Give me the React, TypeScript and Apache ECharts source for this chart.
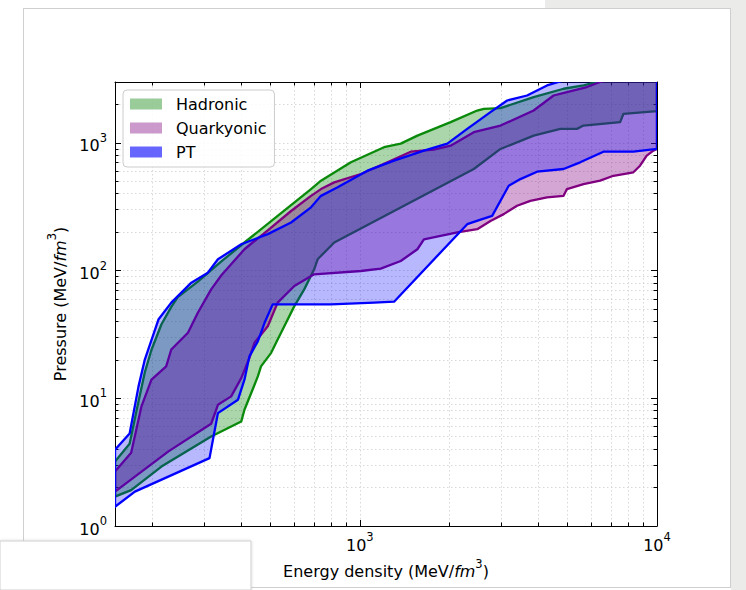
import React, { useEffect, useRef } from 'react';
import * as echarts from 'echarts';

// ---------- data (energy density MeV/fm^3, pressure MeV/fm^3) ----------
const seriesNames = ['Hadronic', 'Quarkyonic', 'PT'];

const hadronicUpper: [number, number][] = [
  [150, 3.2], [168, 4.4], [180, 9.5], [189, 16], [199, 24], [215, 38], [232, 52], [244, 62],
  [285, 82], [342, 118], [409, 166], [529, 268], [685, 435], [740, 506], [933, 705],
  [1206, 925], [1373, 987], [1562, 1141], [2021, 1454], [2483, 1794], [2613, 1850],
  [2974, 1873], [3845, 2286], [4848, 2656], [5658, 2819], [6603, 3087], [8000, 3600], [10000, 4200],
];
const hadronicLower: [number, number][] = [
  [150, 1.7], [170, 1.91], [215, 2.92], [316, 5.02], [399, 6.58], [409, 8.14], [431, 11.0],
  [454, 14.9], [465, 17.8], [503, 22.7], [529, 28.9], [557, 36.7], [602, 52.7], [650, 71.3],
  [702, 102.4], [721, 122.7], [820, 166], [2418, 625], [2974, 897], [3845, 1141], [4726, 1288],
  [5377, 1288], [5658, 1368], [7514, 1454], [7709, 1690], [10000, 1774],
];
const quarkyonicUpper: [number, number][] = [
  [150, 2.67], [170, 3.74], [184, 8.6], [199, 14.0], [223, 17.8], [232, 24.1], [264, 32.6],
  [285, 46.8], [316, 71.3], [342, 92], [409, 147], [490, 207], [587, 293], [685, 385],
  [740, 435], [820, 491], [1008, 571], [1271, 726], [1483, 854], [1775, 886], [2021, 952],
  [2418, 1213], [2974, 1368], [3845, 1794], [4487, 2352], [4977, 2502], [5809, 2739],
  [6437, 2999], [8000, 3500], [10000, 4000],
];
const quarkyonicLower: [number, number][] = [
  [150, 1.86], [227, 3.84], [316, 6.32], [333, 8.9], [369, 10.35], [399, 14.4], [425, 20.7],
  [442, 27.2], [490, 36.7], [529, 56.1], [602, 75.7], [702, 93.5], [1008, 99.3], [1176, 103.7],
  [1373, 119], [1562, 147], [1643, 176], [1870, 187], [2128, 199], [2483, 211], [2752, 245],
  [3050, 277], [3382, 322], [3748, 352], [4265, 374.5], [4848, 385.5], [4977, 435], [5658, 476],
  [6437, 506], [7135, 553], [8327, 589], [8769, 663], [9235, 795], [9719, 870], [10000, 897],
];
const ptUpper: [number, number][] = [
  [150, 3.95], [168, 5.3], [180, 12.4], [189, 20.1], [210, 41.4], [232, 56.1], [271, 80.5],
  [308, 96.4], [333, 122.7], [399, 161], [490, 193], [587, 238], [685, 313], [740, 385],
  [842, 449], [1061, 606], [1304, 726], [1643, 870], [1970, 987], [2298, 1288], [2752, 1743],
  [3131, 2149], [3654, 2352], [4265, 2819], [4848, 3087], [6500, 4200], [10000, 6000],
];
const ptLower: [number, number][] = [
  [150, 1.415], [175, 1.86], [312, 3.4], [333, 7.66], [389, 9.75], [409, 14.0], [425, 21.3],
  [454, 28.0], [478, 39.0], [509, 54.4], [799, 54.4], [1117, 56.1], [1304, 57.1], [2298, 231],
  [2580, 253], [2788, 268.5], [3170, 462], [3470, 521], [3948, 595], [4848, 625], [5515, 705],
  [6603, 854], [8327, 854], [10000, 897],
];

const xMajorTicks = [1000, 10000];
const xMinorTicks = [200, 300, 400, 500, 600, 700, 800, 900, 2000, 3000, 4000, 5000, 6000, 7000, 8000, 9000];
const yMajorTicks = [1, 10, 100, 1000];
const yMinorTicks = [2, 3, 4, 5, 6, 7, 8, 9, 20, 30, 40, 50, 60, 70, 80, 90, 200, 300, 400, 500, 600, 700, 800, 900, 2000];

const FONT = 'DejaVu Sans';

const supLabel = (v: number) => `{b|10}{s|${Math.round(Math.log10(v))}}`;
const labelRich = {
  b: { fontSize: 16, fontFamily: FONT, color: '#000', lineHeight: 22, verticalAlign: 'bottom' },
  s: { fontSize: 11.5, fontFamily: FONT, color: '#000', lineHeight: 12, verticalAlign: 'top' },
};
const nameRich = {
  a: { fontSize: 16, fontFamily: FONT, color: '#000', lineHeight: 22, verticalAlign: 'bottom' },
  i: { fontSize: 16, fontFamily: FONT, fontStyle: 'italic', color: '#000', lineHeight: 22, verticalAlign: 'bottom' },
  s: { fontSize: 11.5, fontFamily: FONT, color: '#000', lineHeight: 12, verticalAlign: 'top' },
};

const gridLine = { show: true, lineStyle: { color: '#d9d9d9', width: 1, type: [1.5, 2.5] as any } };

function makeX(position: 'bottom' | 'top', major: boolean, withLabel: boolean) {
  return {
    type: 'log',
    min: 150,
    max: 10000,
    position,
    gridIndex: 0,
    axisLine: { show: major, onZero: false, lineStyle: { color: '#000', width: 1 } },
    axisTick: { show: true, inside: true, length: major ? 6 : 3.5, lineStyle: { color: '#000', width: 1 }, customValues: major ? xMajorTicks : xMinorTicks },
    axisLabel: withLabel
      ? { show: true, customValues: xMajorTicks, formatter: supLabel, rich: labelRich, margin: 5 }
      : { show: false },
    splitLine: position === 'bottom' ? gridLine : { show: false },
    minorTick: { show: false },
    ...(withLabel
      ? {
          name: '{a|Energy density (MeV/}{i|fm}{s|3}{a|)}',
          nameLocation: 'middle',
          nameGap: 31,
          nameTextStyle: { rich: nameRich },
        }
      : {}),
  };
}
function makeY(position: 'left' | 'right', major: boolean, withLabel: boolean) {
  return {
    type: 'log',
    min: 1,
    max: 3000,
    position,
    gridIndex: 0,
    axisLine: { show: major, onZero: false, lineStyle: { color: '#000', width: 1 } },
    axisTick: { show: true, inside: true, length: major ? 6 : 3.5, lineStyle: { color: '#000', width: 1 }, customValues: major ? yMajorTicks : yMinorTicks },
    axisLabel: withLabel
      ? { show: true, customValues: yMajorTicks, formatter: supLabel, rich: labelRich, margin: 8 }
      : { show: false },
    splitLine: position === 'left' ? gridLine : { show: false },
    minorTick: { show: false },
    ...(withLabel
      ? {
          name: '{a|Pressure (MeV/}{i|fm}{s|3}{a|)}',
          nameLocation: 'middle',
          nameRotate: 90,
          nameGap: 43,
          nameTextStyle: { rich: nameRich },
        }
      : {}),
  };
}

function band(name: string, upper: [number, number][], lower: [number, number][], fill: string, stroke: string, legendColor: string) {
  const poly = upper.concat(lower.slice().reverse());
  return {
    type: 'custom',
    name,
    coordinateSystem: 'cartesian2d',
    xAxisIndex: 0,
    yAxisIndex: 0,
    clip: true,
    silent: true,
    data: poly,
    encode: { x: 0, y: 1 },
    itemStyle: { color: legendColor, borderWidth: 0 },
    renderItem: (params: any, api: any) => {
      if (params.dataIndex !== 0) return null;
      const pts = poly.map((p) => api.coord(p));
      return {
        type: 'polygon',
        shape: { points: pts },
        style: { fill, stroke, lineWidth: 2.3, lineJoin: 'round' },
      };
    },
  };
}

export default function App() {
  const ref = useRef<HTMLDivElement>(null);
  useEffect(() => {
    document.body.style.margin = '0';
    const chart = echarts.init(ref.current!, null, { renderer: 'svg' });
    const border = '#cfcfcf';
    chart.setOption({
      animation: false,
      backgroundColor: '#ffffff',
      graphic: [
        { type: 'rect', z: -10, shape: { x: 545, y: 0, width: 201, height: 8 }, style: { fill: '#ebebea' } },
        { type: 'rect', z: -10, shape: { x: 731, y: 0, width: 15, height: 590 }, style: { fill: '#ebebea' } },
        { type: 'line', z: -9, shape: { x1: 23, y1: 8.5, x2: 731, y2: 8.5 }, style: { stroke: border, lineWidth: 1 } },
        { type: 'line', z: -9, shape: { x1: 23.5, y1: 8, x2: 23.5, y2: 541 }, style: { stroke: border, lineWidth: 1 } },
        { type: 'line', z: -9, shape: { x1: 730.5, y1: 8, x2: 730.5, y2: 588 }, style: { stroke: border, lineWidth: 1 } },
        { type: 'line', z: -9, shape: { x1: 250, y1: 587.5, x2: 731, y2: 587.5 }, style: { stroke: border, lineWidth: 1 } },
        { type: 'rect', z: -8, shape: { x: 0, y: 541, width: 251, height: 49 }, style: { fill: '#ffffff', stroke: border, lineWidth: 1, shadowBlur: 3, shadowColor: 'rgba(0,0,0,0.15)' } },
      ],
      grid: { left: 115, top: 82, width: 542, height: 444, containLabel: false, outerBoundsMode: 'none' },
      legend: {
        data: seriesNames,
        orient: 'vertical',
        left: 123,
        top: 90,
        icon: 'rect',
        itemWidth: 32,
        itemHeight: 11,
        itemGap: 8,
        padding: [6, 8, 7, 7],
        backgroundColor: 'rgba(255,255,255,0.85)',
        borderColor: '#cccccc',
        borderWidth: 1,
        borderRadius: 4,
        itemStyle: { borderWidth: 0 },
        textStyle: { fontFamily: FONT, fontSize: 16, color: '#000', padding: [0, 0, 0, 9], lineHeight: 16 },
        selectedMode: false,
        z: 20,
      },
      xAxis: [makeX('bottom', true, true), makeX('bottom', false, false), makeX('top', true, false), makeX('top', false, false)],
      yAxis: [makeY('left', true, true), makeY('left', false, false), makeY('right', true, false), makeY('right', false, false)],
      series: [
        band(seriesNames[0], hadronicUpper, hadronicLower, 'rgba(0,128,0,0.33)', '#0a8a0a', 'rgba(0,128,0,0.4)'),
        band(seriesNames[1], quarkyonicUpper, quarkyonicLower, 'rgba(128,0,128,0.35)', '#800080', 'rgba(128,0,128,0.4)'),
        band(seriesNames[2], ptUpper, ptLower, 'rgba(0,0,255,0.28)', '#0000ff', 'rgba(0,0,255,0.6)'),
      ],
    });
    return () => chart.dispose();
  }, []);
  return <div ref={ref} style={{ position: 'fixed', left: 0, top: 0, width: 746, height: 590 }} />;
}
